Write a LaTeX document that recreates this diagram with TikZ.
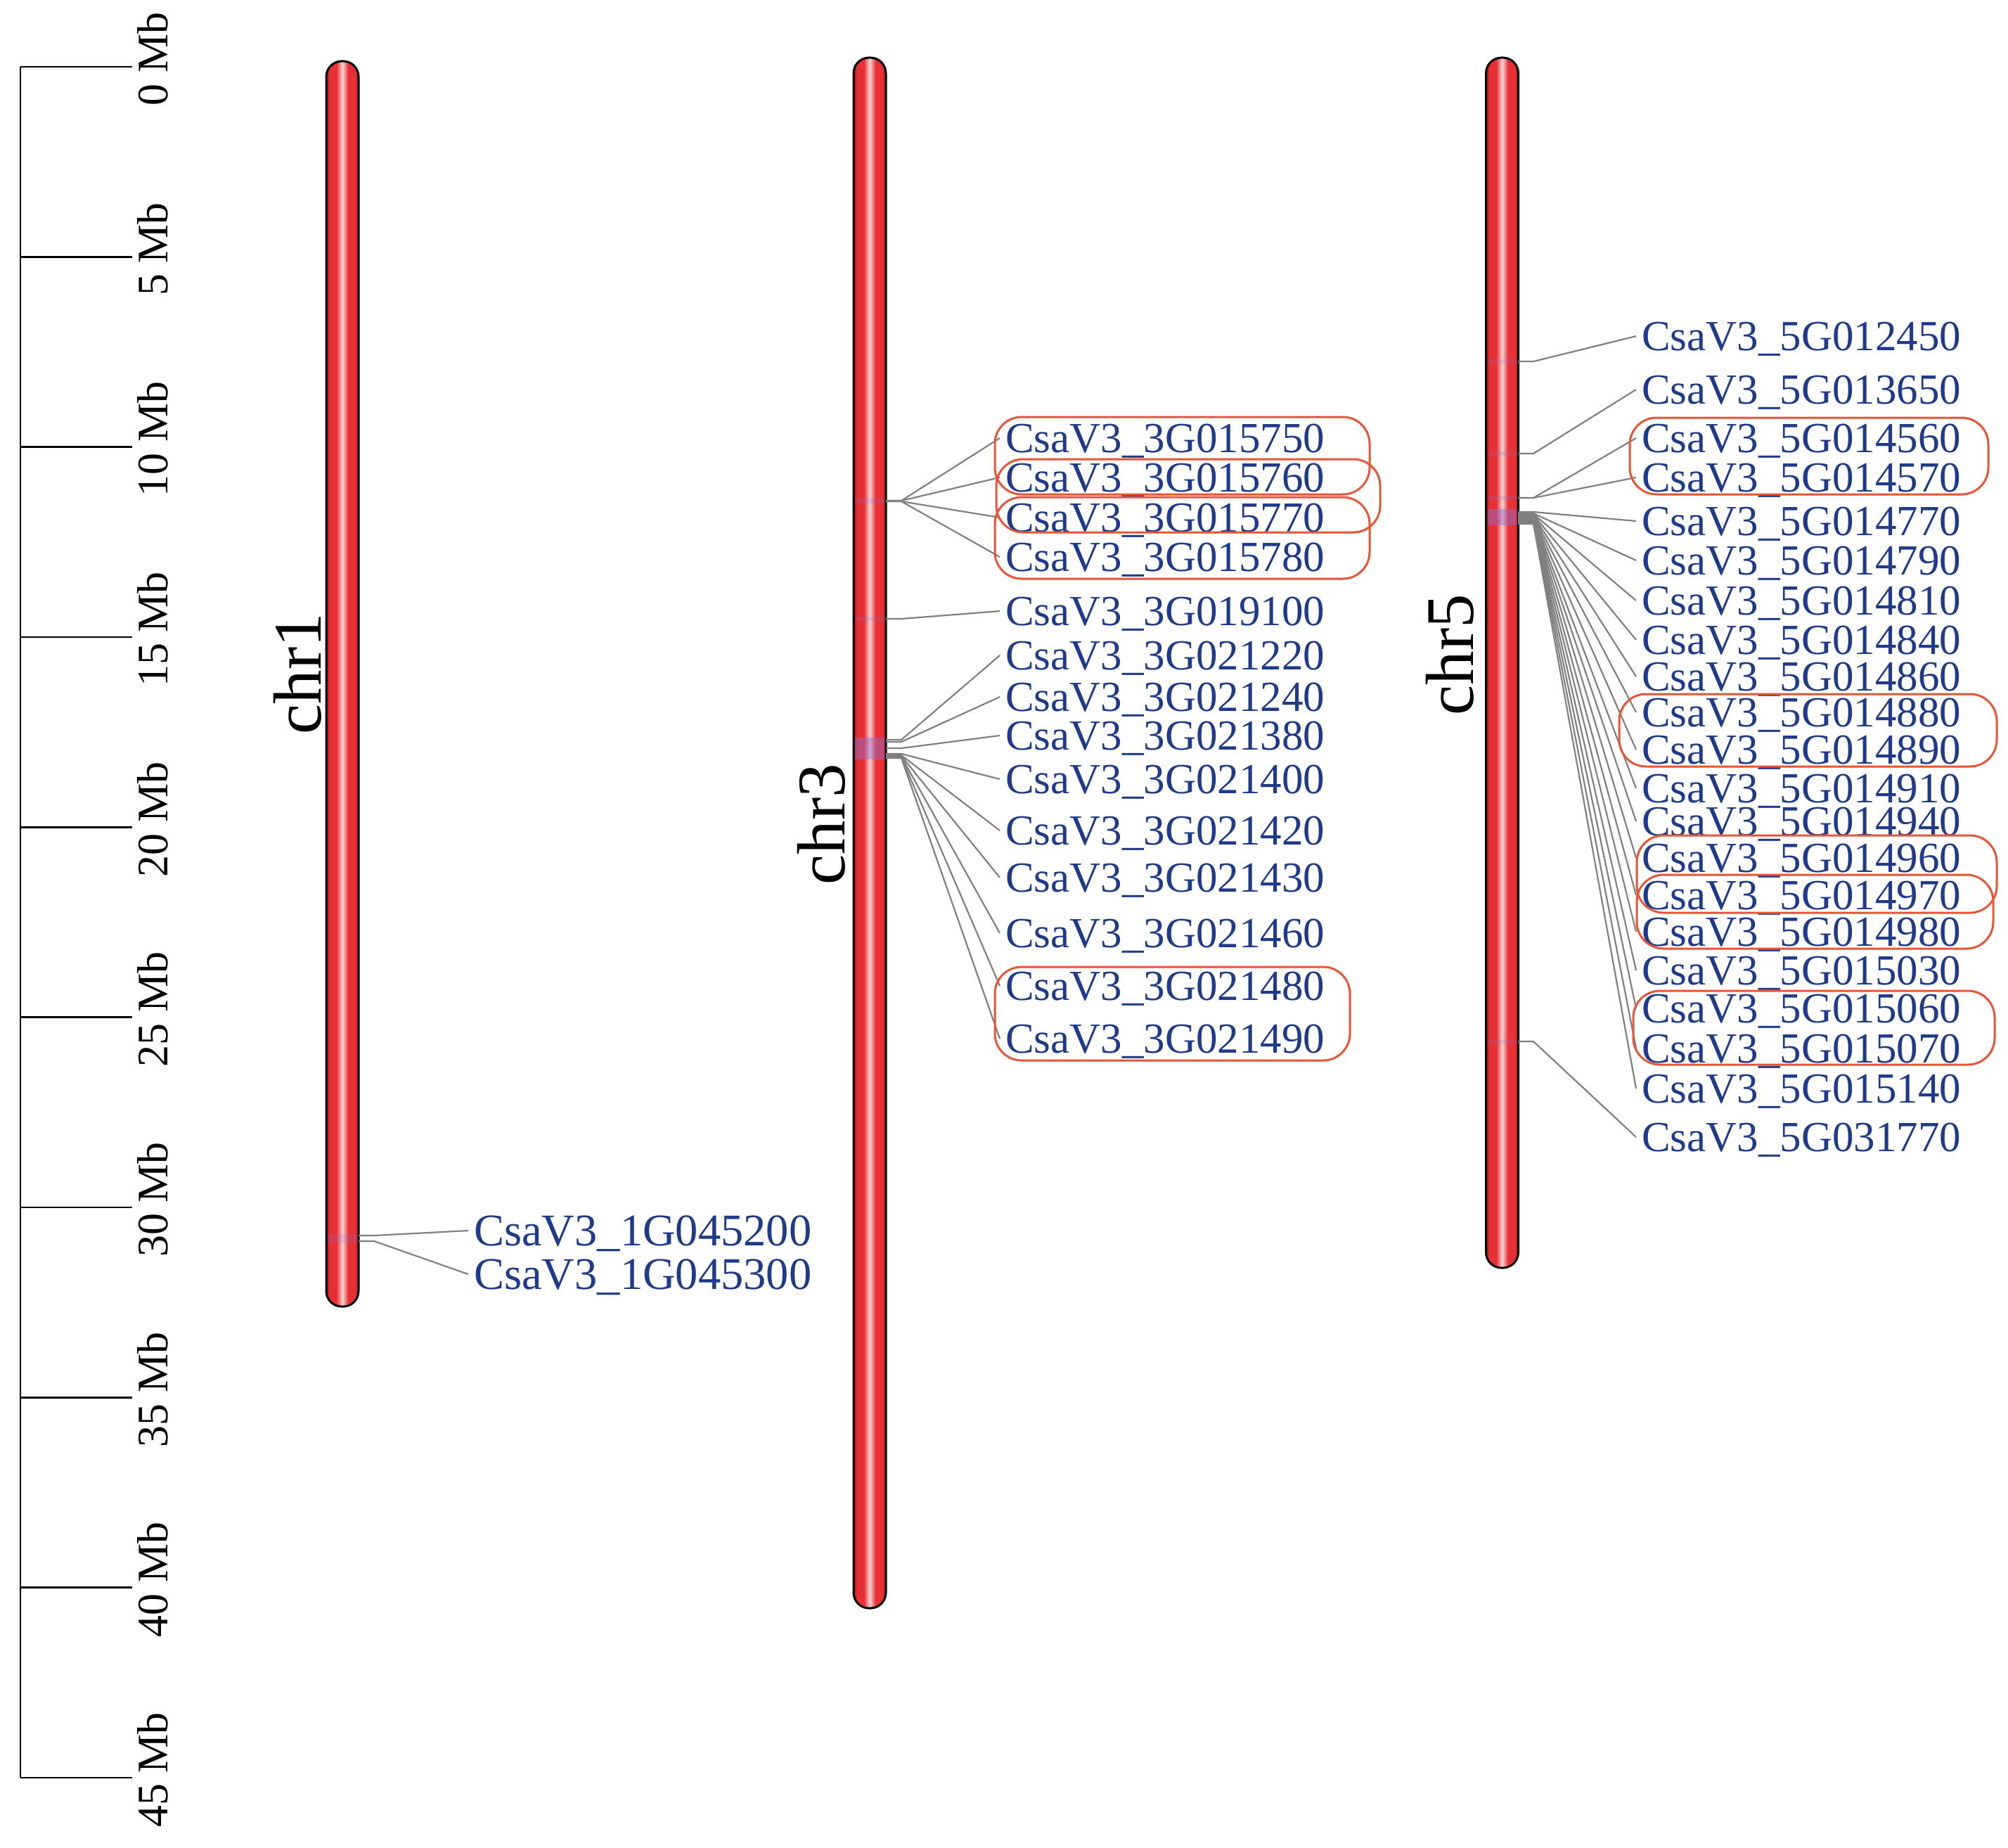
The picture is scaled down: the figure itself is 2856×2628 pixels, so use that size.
\documentclass[tikz,border=0pt]{standalone}
\usepackage{fontspec}
\setmainfont{Liberation Serif}
\definecolor{gblue}{RGB}{30,58,138}
\definecolor{boxred}{RGB}{232,84,52}
\definecolor{lgray}{RGB}{128,128,128}
\definecolor{bdark}{RGB}{150,15,20}
\definecolor{bred}{RGB}{230,48,52}
\definecolor{bwhite}{RGB}{252,214,214}
\definecolor{hlcol}{RGB}{140,110,210}
\pgfdeclarehorizontalshading{chrshade}{100bp}{color(0bp)=(bdark); color(25bp)=(bdark); color(30bp)=(bred); color(41bp)=(bred); color(50bp)=(bwhite); color(59bp)=(bred); color(70bp)=(bred); color(75bp)=(bdark); color(100bp)=(bdark)}
\newcommand{\genelink}[3]{%
  \coordinate (at#3) at (#1,#2);
  \draw[link] (at#3) -- ++(22,0) -- (#3.west);}
\begin{document}
\begin{tikzpicture}[x=1pt,y=-1pt,
  gene/.style={anchor=west,text=gblue,font=\fontsize{61}{61}\selectfont,inner xsep=8pt,inner ysep=0pt,text depth=0pt},
  bigene/.style={gene,font=\fontsize{64.5}{64.5}\selectfont},
  link/.style={draw=lgray,line width=2.2pt},
  grp/.style={draw=boxred,line width=3pt,rounded corners=38pt},
  chrbar/.style={draw=black,line width=3pt,rounded corners=22pt,shading=chrshade,inner sep=0pt,minimum width=46pt},
  chrlab/.style={rotate=90,font=\fontsize{97}{97}\selectfont,inner sep=0pt},
  mblab/.style={rotate=90,anchor=north,font=\fontsize{62}{62}\selectfont,inner sep=0pt},
  scaleline/.style={line width=2.6pt},
  hl/.style={fill=hlcol,opacity=0.45},
  hlthin/.style={fill=hlcol,opacity=0.2}
]
\useasboundingbox (0,0) rectangle (2856,2628);

% scale bar
\draw[scaleline] (29,95) -- (29,2528);
\foreach \i/\lab in {0/0 Mb,1/5 Mb,2/10 Mb,3/15 Mb,4/20 Mb,5/25 Mb,6/30 Mb,7/35 Mb,8/40 Mb,9/45 Mb}{
  \pgfmathsetmacro{\yy}{95+270.33*\i}
  \draw[scaleline] (29,\yy) -- (188,\yy);
  \node[mblab] (mb\i) at (195,\yy-11) {\lab};
}

% chromosomes
\node[chrbar,minimum height=1771pt] (chrA) at (487,972.5) {};
\node[chrbar,minimum height=2205pt] (chrC) at (1237,1184.5) {};
\node[chrbar,minimum height=1721pt] (chrE) at (2136.5,942.5) {};

% highlight marks
\fill[hlthin] (466,1755) rectangle (508,1768);
\fill[hlthin] (1216,709) rectangle (1258,716);
\fill[hlthin] (1216,877) rectangle (1258,883);
\fill[hl] (1216,1049) rectangle (1258,1080);
\fill[hlthin] (2116,511) rectangle (2157,517);
\fill[hlthin] (2116,642) rectangle (2157,648);
\fill[hlthin] (2116,705) rectangle (2157,711);
\fill[hl] (2116,724) rectangle (2157,747);
\fill[hlthin] (2116,1478) rectangle (2157,1484);

% chromosome labels
\node[chrlab] (lab1) at (423,958) {chr1};
\node[chrlab] (lab3) at (1168,1172) {chr3};
\node[chrlab] (lab5) at (2062,931) {chr5};

% chr1 genes
\node[bigene] (g1G045200) at (666,1750) {CsaV3\_1G045200};
\node[bigene] (g1G045300) at (666,1812) {CsaV3\_1G045300};
\genelink{510}{1757}{g1G045200}
\genelink{510}{1765}{g1G045300}

% chr3 genes
\node[gene] (g3G015750) at (1422,623) {CsaV3\_3G015750};
\node[gene] (g3G015760) at (1422,679) {CsaV3\_3G015760};
\node[gene] (g3G015770) at (1422,736) {CsaV3\_3G015770};
\node[gene] (g3G015780) at (1422,792) {CsaV3\_3G015780};
\node[gene] (g3G019100) at (1422,869) {CsaV3\_3G019100};
\node[gene] (g3G021220) at (1422,932) {CsaV3\_3G021220};
\node[gene] (g3G021240) at (1422,991) {CsaV3\_3G021240};
\node[gene] (g3G021380) at (1422,1046) {CsaV3\_3G021380};
\node[gene] (g3G021400) at (1422,1108) {CsaV3\_3G021400};
\node[gene] (g3G021420) at (1422,1181) {CsaV3\_3G021420};
\node[gene] (g3G021430) at (1422,1248) {CsaV3\_3G021430};
\node[gene] (g3G021460) at (1422,1327) {CsaV3\_3G021460};
\node[gene] (g3G021480) at (1422,1402) {CsaV3\_3G021480};
\node[gene] (g3G021490) at (1422,1477) {CsaV3\_3G021490};
\genelink{1260}{712}{g3G015750}
\genelink{1260}{712}{g3G015760}
\genelink{1260}{713}{g3G015770}
\genelink{1260}{713}{g3G015780}
\genelink{1260}{880}{g3G019100}
\genelink{1260}{1052}{g3G021220}
\genelink{1260}{1055}{g3G021240}
\genelink{1260}{1064}{g3G021380}
\genelink{1260}{1072}{g3G021400}
\genelink{1260}{1074}{g3G021420}
\genelink{1260}{1075}{g3G021430}
\genelink{1260}{1076}{g3G021460}
\genelink{1260}{1077}{g3G021480}
\genelink{1260}{1078}{g3G021490}

% chr5 genes
\node[gene] (g5G012450) at (2327,478) {CsaV3\_5G012450};
\node[gene] (g5G013650) at (2327,554) {CsaV3\_5G013650};
\node[gene] (g5G014560) at (2327,623) {CsaV3\_5G014560};
\node[gene] (g5G014570) at (2327,679) {CsaV3\_5G014570};
\node[gene] (g5G014770) at (2327,741) {CsaV3\_5G014770};
\node[gene] (g5G014790) at (2327,797) {CsaV3\_5G014790};
\node[gene] (g5G014810) at (2327,854) {CsaV3\_5G014810};
\node[gene] (g5G014840) at (2327,910) {CsaV3\_5G014840};
\node[gene] (g5G014860) at (2327,962) {CsaV3\_5G014860};
\node[gene] (g5G014880) at (2327,1013) {CsaV3\_5G014880};
\node[gene] (g5G014890) at (2327,1066) {CsaV3\_5G014890};
\node[gene] (g5G014910) at (2327,1121) {CsaV3\_5G014910};
\node[gene] (g5G014940) at (2327,1168) {CsaV3\_5G014940};
\node[gene] (g5G014960) at (2327,1220) {CsaV3\_5G014960};
\node[gene] (g5G014970) at (2327,1273) {CsaV3\_5G014970};
\node[gene] (g5G014980) at (2327,1325) {CsaV3\_5G014980};
\node[gene] (g5G015030) at (2327,1380) {CsaV3\_5G015030};
\node[gene] (g5G015060) at (2327,1434) {CsaV3\_5G015060};
\node[gene] (g5G015070) at (2327,1491) {CsaV3\_5G015070};
\node[gene] (g5G015140) at (2327,1548) {CsaV3\_5G015140};
\node[gene] (g5G031770) at (2327,1617) {CsaV3\_5G031770};
\genelink{2159}{514}{g5G012450}
\genelink{2159}{645}{g5G013650}
\genelink{2159}{708}{g5G014560}
\genelink{2159}{708}{g5G014570}
\genelink{2159}{728}{g5G014770}
\genelink{2159}{730}{g5G014790}
\genelink{2159}{731}{g5G014810}
\genelink{2159}{732}{g5G014840}
\genelink{2159}{733}{g5G014860}
\genelink{2159}{734}{g5G014880}
\genelink{2159}{735}{g5G014890}
\genelink{2159}{736}{g5G014910}
\genelink{2159}{737}{g5G014940}
\genelink{2159}{738}{g5G014960}
\genelink{2159}{739}{g5G014970}
\genelink{2159}{740}{g5G014980}
\genelink{2159}{741}{g5G015030}
\genelink{2159}{742}{g5G015060}
\genelink{2159}{743}{g5G015070}
\genelink{2159}{745}{g5G015140}
\genelink{2159}{1481}{g5G031770}

% group boxes
\draw[grp] (1415,593) rectangle (1948,703);
\draw[grp] (1417,653) rectangle (1963,757);
\draw[grp] (1415,707) rectangle (1948,823);
\draw[grp] (1415,1375) rectangle (1920,1508);
\draw[grp] (2318,594) rectangle (2828,703);
\draw[grp] (2303,987) rectangle (2840,1090);
\draw[grp] (2328,1188) rectangle (2840,1298);
\draw[grp] (2328,1244) rectangle (2835,1349);
\draw[grp] (2323,1409) rectangle (2837,1514);
\end{tikzpicture}
\end{document}
